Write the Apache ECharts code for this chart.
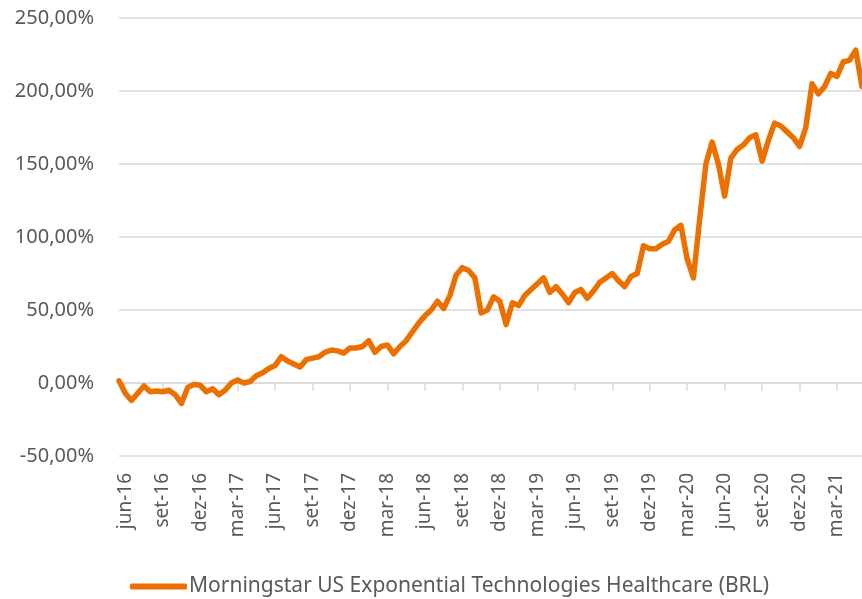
<!DOCTYPE html>
<html>
<head>
<meta charset="utf-8">
<script src="https://cdn.jsdelivr.net/npm/echarts@6/dist/echarts.min.js"></script>
<style>
    html, body {margin: 0; padding: 0; background: #fff;}
    #chart {width: 862px; height: 599px;}
</style>
</head>
<body>
<div id="chart"></div>
<script>
// datas quinzenais (1 e 16 de cada mes), de 16/05/2016 a 01/05/2021
var dates = [];
(function () {
    dates.push('2016-05-16');
    for (var y = 2016; y <= 2021; y++) {
        for (var m = 1; m <= 12; m++) {
            if (y == 2016 && m < 6) continue;
            if (y == 2021 && m > 5) break;
            var mm = m < 10 ? '0' + m : '' + m;
            dates.push(y + '-' + mm + '-01');
            if (y == 2021 && m == 5) break;
            dates.push(y + '-' + mm + '-16');
        }
    }
})();

var seriesName = 'Morningstar US Exponential Technologies Healthcare (BRL)';

// retorno acumulado (%)
var values = [
    1.5, -7, -12, -7, -2, -6, -5.5, -6, -5, -8,
    -14, -3, -1, -1.5, -6, -4, -8, -5, 0, 2,
    0, 1, 5, 7, 10, 12, 18, 15, 13, 11,
    16, 17, 18, 21, 22.6, 22, 20.5, 24, 24, 25,
    29, 21, 25, 26, 20, 25, 29, 35, 41, 46,
    50, 56, 51, 60, 74, 79, 77, 72, 48, 50,
    59, 56, 40, 55, 53, 60, 64, 68, 72, 62,
    66, 61, 55, 62, 64, 58, 63, 69, 72, 75,
    70, 66, 73, 75, 94, 92, 92, 95, 97, 105,
    108, 85, 72, 112, 150, 165, 150, 128, 154, 160,
    163, 168, 170, 152, 166, 178, 176, 172, 168, 162,
    175, 205, 198, 203, 212, 210, 220, 221, 228, 203
];

var yTicks = [-50, 0, 50, 100, 150, 200, 250];
var mesesPt = ['jan', 'fev', 'mar', 'abr', 'mai', 'jun', 'jul', 'ago', 'set', 'out', 'nov', 'dez'];

var fontFamily = '"Noto Sans", "Open Sans", sans-serif';
var textColor = '#595959';
var lineColor = '#EC7000';

function isQuarterLabel(idx, value) {
    var p = value.split('-');
    var m = parseInt(p[1], 10);
    return p[2] == '01' && (m % 3 == 0);
}

function fmtDate(value) {
    var p = value.split('-');
    return mesesPt[parseInt(p[1], 10) - 1] + '-' + p[0].substring(2);
}

var option = {
    animation: false,
    grid: {left: 119, right: 0, top: 18, bottom: 143, containLabel: false},
    legend: {
        data: [seriesName],
        left: 125,
        top: 571,
        icon: 'roundRect',
        itemWidth: 57,
        itemHeight: 6,
        itemGap: 2,
        textStyle: {fontFamily: fontFamily, fontSize: 21, color: textColor, padding: [0, 0, 0, -3]}
    },
    xAxis: [
        {
            type: 'category',
            data: dates,
            boundaryGap: false,
            axisLine: {show: false, onZero: false},
            axisTick: {show: false},
            axisLabel: {
                interval: isQuarterLabel,
                formatter: fmtDate,
                rotate: 90,
                margin: 17,
                fontFamily: fontFamily,
                fontSize: 19,
                color: textColor
            },
            splitLine: {show: false}
        },
        {
            type: 'category',
            data: dates,
            position: 'bottom',
            boundaryGap: false,
            axisLine: {show: true, onZero: true, lineStyle: {color: '#d9d9d9', width: 1.5}},
            axisTick: {show: true, interval: isQuarterLabel, length: 8, lineStyle: {color: '#d9d9d9', width: 1.5}},
            axisLabel: {show: false},
            splitLine: {show: false}
        }
    ],
    yAxis: {
        type: 'value',
        min: yTicks[0],
        max: yTicks[yTicks.length - 1],
        interval: 50,
        axisLine: {show: false},
        axisTick: {show: false},
        axisLabel: {
            margin: 25,
            formatter: function (v) { return v + ',00%'; },
            fontFamily: fontFamily,
            fontSize: 20,
            color: textColor
        },
        splitLine: {lineStyle: {color: '#d9d9d9', width: 1.5}}
    },
    series: [
        {
            name: seriesName,
            type: 'line',
            data: values,
            symbol: 'none',
            lineStyle: {color: lineColor, width: 5.5, cap: 'round', join: 'round'},
            itemStyle: {color: lineColor}
        }
    ]
};

var myChart = echarts.init(document.getElementById('chart'));
myChart.setOption(option);
</script>
</body>
</html>
